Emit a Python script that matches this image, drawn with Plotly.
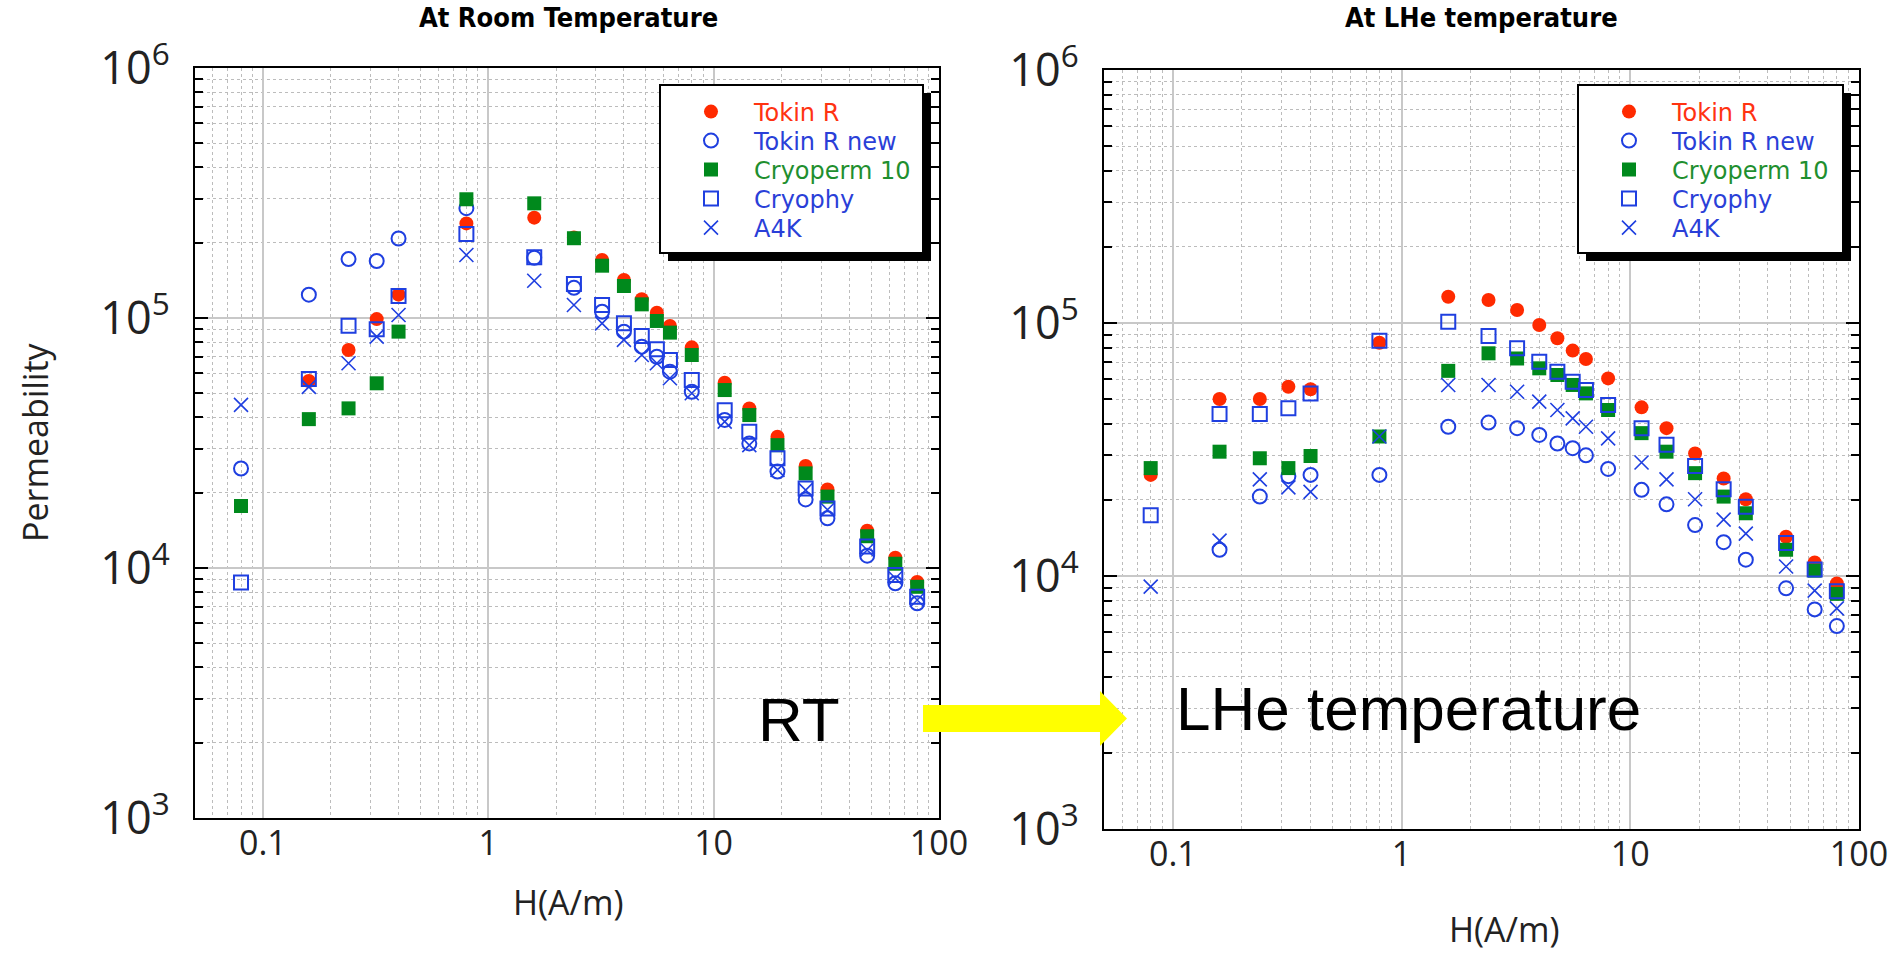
import math
import plotly.graph_objects as go

W, H = 1899, 957

# ---------------- data ----------------
field_H = [0.08, 0.16, 0.24, 0.32, 0.4, 0.8, 1.6, 2.4, 3.2, 4.0, 4.8, 5.6, 6.4,
           8, 11.2, 14.4, 19.2, 25.6, 32, 48, 64, 80]

series_names = ["Tokin R", "Tokin R new", "Cryoperm 10", "Cryophy", "A4K"]

rt_tokin_r = [None, 56000, 74500, 99000, 124000, 239000, 252000, 210000, 170600, 141900,
              118800, 105000, 92900, 76300, 55100, 43500, 33500, 25600, 20600, 14100, 11000, 8800]
rt_tokin_r_new = [25000, 124000, 172000, 169000, 208000, 275000, 174000, 132000, 106000, 88200,
                  76800, 70000, 61000, 50700, 39100, 31500, 24300, 18800, 15800, 11200, 8680, 7220]
rt_cryoperm = [17700, 39400, 43500, 54800, 88200, 298500, 287500, 208500, 161900, 134300,
               113400, 97300, 87400, 71100, 51500, 40900, 31000, 23900, 19300, 13400, 10400, 8410]
rt_cryophy = [8740, 57000, 93100, 90100, 122400, 216800, 174900, 136800, 112700, 95200,
              84700, 75000, 67900, 56500, 42800, 35100, 27500, 20800, 17300, 12200, 9380, 7680]
rt_a4k = [44900, 53000, 65900, 84200, 102800, 178600, 141000, 112700, 95200, 81700,
          71100, 65900, 57400, 50000, 38500, 31000, 24700, 20500, 17100, 11800, 9100, 7450]

lhe_tokin_r = [25100, 50100, 50100, 56000, 54700, 83600, 127000, 123300, 112600, 98200,
               87000, 77800, 72100, 60400, 46400, 38400, 30500, 24300, 20100, 14300, 11300, 9350]
lhe_tokin_r_new = [None, 12700, 20600, 24800, 25100, 25100, 38900, 40400, 38400, 36100,
                   33400, 32000, 30000, 26500, 21900, 19200, 15900, 13600, 11600, 8940, 7380, 6340]
lhe_cryoperm = [26700, 31000, 29200, 26700, 29800, 35600, 64700, 75900, 72400, 66200,
                62300, 56900, 52700, 45300, 36700, 31000, 25500, 20600, 17700, 12700, 10500, 8500]
lhe_cryophy = [17400, 43700, 43700, 46000, 52700, 85100, 101200, 88800, 79400, 70300,
               64200, 58600, 54300, 47400, 38400, 33000, 27200, 22000, 18800, 13500, 10600, 8700]
lhe_a4k = [9080, 13800, 24100, 22400, 21500, 35600, 56900, 56900, 53500, 48900,
           45300, 42000, 38900, 35000, 28100, 24100, 20100, 16700, 14700, 10900, 8750, 7450]

rt_data = [rt_tokin_r, rt_tokin_r_new, rt_cryoperm, rt_cryophy, rt_a4k]
lhe_data = [lhe_tokin_r, lhe_tokin_r_new, lhe_cryoperm, lhe_cryophy, lhe_a4k]

# ---------------- styles ----------------
RED = "#ff2a00"
BLUE = "#1f3fe0"
GREEN = "#00891c"
styles = [
    dict(symbol="circle", color=RED, line=dict(width=0)),
    dict(symbol="circle-open", color=BLUE, line=dict(width=2, color=BLUE)),
    dict(symbol="square", color=GREEN, line=dict(width=0)),
    dict(symbol="square-open", color=BLUE, line=dict(width=2, color=BLUE)),
    dict(symbol="x-thin-open", color=BLUE, line=dict(width=1.6, color=BLUE)),
]
text_colors = ["#ff3311", "#2a3fd8", "#1f8f2f", "#2a3fd8", "#2a3fd8"]


def px(x):
    return x / W


def py(y):
    return 1 - y / H


FONT = "Open Sans, Noto Sans, sans-serif"
GRID = "#c8c8c8"
MINOR = "#bcbcbc"

# legend layout (pixel positions of item rows / left edges)
legend_rows = [112, 141, 170, 199, 228]
legend_lefts = [668, 1586]

fig = go.Figure()
legends = {}
k = 0
for panel, (data, xa, ya) in enumerate([(rt_data, "x", "y"), (lhe_data, "x2", "y2")]):
    for i, name in enumerate(series_names):
        k += 1
        lg = "legend" if k == 1 else "legend%d" % k
        st = styles[i]
        fig.add_trace(go.Scatter(
            x=field_H, y=data[i], mode="markers", xaxis=xa, yaxis=ya, legend=lg,
            name=name,
            marker=dict(symbol=st["symbol"], size=14, color=st["color"], line=st["line"]),
            showlegend=True,
        ))
        legends[lg] = dict(
            x=px(legend_lefts[panel]), y=py(legend_rows[i]), xanchor="left", yanchor="middle",
            bgcolor="rgba(0,0,0,0)", borderwidth=0,
            font=dict(family="DejaVu Sans, Verdana, sans-serif", size=24, color=text_colors[i]),
            itemwidth=76,
        )


def xaxis_cfg(x0, x1, anchor):
    return dict(
        domain=[px(x0), px(x1)], type="log", range=[math.log10(0.05), 2.0], dtick=1,
        anchor=anchor, automargin=False,
        showline=True, linecolor="black", linewidth=2, mirror=True,
        ticks="", showgrid=True, gridcolor=GRID, gridwidth=1.5, zeroline=False,
        minor=dict(showgrid=True, gridcolor=MINOR, griddash="dot", gridwidth=1, dtick="D1"),
        tickfont=dict(family=FONT, size=34, color="#222"), ticklabelstandoff=-6,
    )


def yaxis_cfg(y_top, y_bot, anchor):
    return dict(
        domain=[py(y_bot), py(y_top)], type="log", range=[3, 6], dtick=1,
        exponentformat="power", anchor=anchor, automargin=False,
        showline=True, linecolor="black", linewidth=2, mirror="allticks",
        ticks="inside", ticklen=13, tickwidth=2, tickcolor="black",
        showgrid=True, gridcolor=GRID, gridwidth=1.5, zeroline=False,
        minor=dict(ticks="inside", ticklen=8, tickwidth=2, tickcolor="black", dtick="D1",
                   showgrid=True, gridcolor=MINOR, griddash="dot", gridwidth=1),
        tickfont=dict(family=FONT, size=36, color="#222"), ticklabelstandoff=16,
    )


# legend box shapes (shadow + frame)
shapes = []
for (bx0, by0, bx1, by1) in [(660, 85, 923, 253), (1578, 85, 1843, 253)]:
    shapes.append(dict(type="rect", xref="paper", yref="paper", layer="above",
                       x0=px(bx0 + 8), x1=px(bx1 + 8), y0=py(by1 + 8), y1=py(by0 + 8),
                       fillcolor="black", line=dict(width=0)))
    shapes.append(dict(type="rect", xref="paper", yref="paper", layer="above",
                       x0=px(bx0), x1=px(bx1), y0=py(by1), y1=py(by0),
                       fillcolor="white", line=dict(color="black", width=2)))

# yellow arrow
arrow_pts = [(923, 705), (1100, 705), (1100, 691), (1127, 718.5), (1100, 746),
             (1100, 732), (923, 732)]
path = "M " + " L ".join("%.5f,%.5f" % (px(a), py(b)) for a, b in arrow_pts) + " Z"
shapes.append(dict(type="path", xref="paper", yref="paper", path=path,
                   fillcolor="#ffff00", line=dict(width=0), layer="above"))

TITLE_FONT = "Liberation Sans Narrow, DejaVu Sans Condensed, Roboto Condensed, sans-serif"
annotations = [
    dict(text="<b>At Room Temperature</b>", x=px(568), y=py(18), xref="paper", yref="paper",
         showarrow=False, xanchor="center", yanchor="middle",
         font=dict(family=TITLE_FONT, size=27, color="black")),
    dict(text="<b>At LHe temperature</b>", x=px(1481), y=py(18), xref="paper", yref="paper",
         showarrow=False, xanchor="center", yanchor="middle",
         font=dict(family=TITLE_FONT, size=27, color="black")),
    dict(text="Permeability", x=px(35), y=py(442), xref="paper", yref="paper", textangle=-90,
         showarrow=False, xanchor="center", yanchor="middle",
         font=dict(family=FONT, size=34, color="#222")),
    dict(text="H(A/m)", x=px(568), y=py(902), xref="paper", yref="paper",
         showarrow=False, xanchor="center", yanchor="middle",
         font=dict(family=FONT, size=34, color="#222")),
    dict(text="H(A/m)", x=px(1504), y=py(929), xref="paper", yref="paper",
         showarrow=False, xanchor="center", yanchor="middle",
         font=dict(family=FONT, size=34, color="#222")),
    dict(text="RT", x=px(756), y=py(756), xref="paper", yref="paper",
         showarrow=False, xanchor="left", yanchor="bottom",
         font=dict(family="Liberation Sans, Arial, sans-serif", size=62, color="black")),
    dict(text="LHe temperature", x=px(1174), y=py(745), xref="paper", yref="paper",
         showarrow=False, xanchor="left", yanchor="bottom",
         font=dict(family="Liberation Sans, Arial, sans-serif", size=62, color="black")),
]

fig.update_layout(
    width=W, height=H, margin=dict(l=0, r=0, t=0, b=0, autoexpand=False),
    paper_bgcolor="white", plot_bgcolor="white",
    xaxis=xaxis_cfg(195, 939, "y"), yaxis=yaxis_cfg(68, 818, "x"),
    xaxis2=xaxis_cfg(1104, 1859, "y2"), yaxis2=yaxis_cfg(70, 829, "x2"),
    shapes=shapes, annotations=annotations,
    **legends,
)

fig.write_html("out.html")
